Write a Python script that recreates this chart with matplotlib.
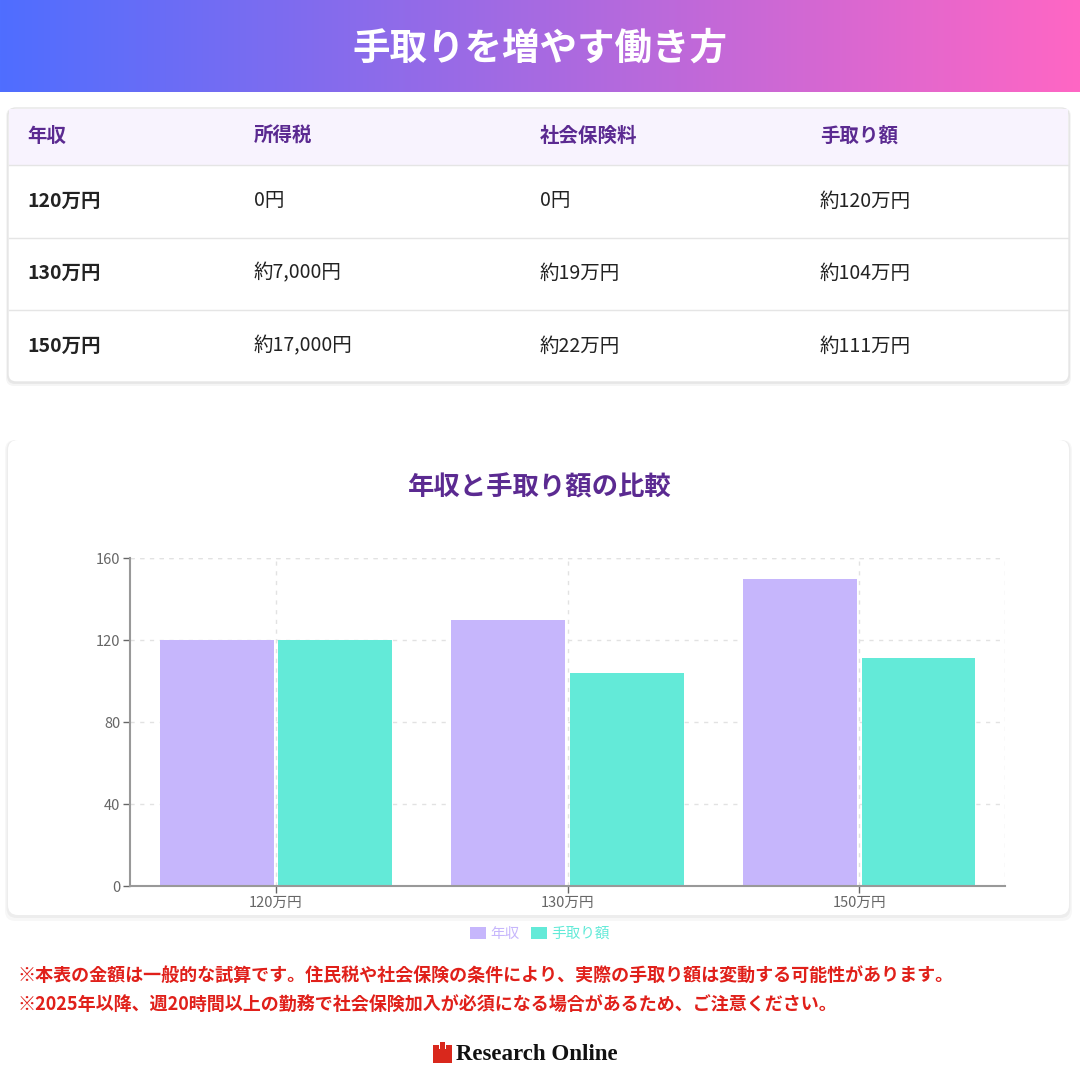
import matplotlib
matplotlib.use("Agg")
import matplotlib.pyplot as plt
import numpy as np
from matplotlib.patches import FancyBboxPatch, Rectangle

plt.rcParams["font.family"] = "Noto Sans CJK JP"

title = "手取りを増やす働き方"
table_header = ["年収", "所得税", "社会保険料", "手取り額"]
table_rows = [
    ["120万円", "0円", "0円", "約120万円"],
    ["130万円", "約7,000円", "約19万円", "約104万円"],
    ["150万円", "約17,000円", "約22万円", "約111万円"],
]
categories = ["120万円", "130万円", "150万円"]
income = [120, 130, 150]
takehome = [120, 104, 111]
chart_title = "年収と手取り額の比較"
series_names = ["年収", "手取り額"]
yticks = [0, 40, 80, 120, 160]
notes = [
    "※本表の金額は一般的な試算です。住民税や社会保険の条件により、実際の手取り額は変動する可能性があります。",
    "※2025年以降、週20時間以上の勤務で社会保険加入が必須になる場合があるため、ご注意ください。",
]

W = H = 1080
fig = plt.figure(figsize=(10.8, 10.8), dpi=100)
fig.patch.set_facecolor("white")

def fx(x): return x / W
def fy(y): return 1 - y / H

# header gradient
hax = fig.add_axes([0, fy(92), 1, 92 / H])
grad = np.linspace(0, 1, 512)
c1 = np.array([0x4F, 0x6E, 0xFF]) / 255
c2 = np.array([0xFF, 0x66, 0xC4]) / 255
c_mid = np.array([0xA0, 0x6A, 0xE0]) / 255
img = np.zeros((1, 512, 3))
for i, t in enumerate(grad):
    img[0, i] = c1 * (1 - t) + c2 * t
hax.imshow(img, aspect="auto", extent=[0, 1, 0, 1])
hax.axis("off")
fig.text(0.5, fy(48), title, ha="center", va="center", fontsize=27,
         fontweight="bold", color="white")

# table card
bg = fig.add_axes([0, 0, 1, 1], zorder=-1)
bg.set_xlim(0, W); bg.set_ylim(H, 0); bg.axis("off")
for off, a in [(4, 0.04), (2, 0.05)]:
    bg.add_patch(FancyBboxPatch((8 - off / 2, 108), 1061 + off, 274 + off,
                                boxstyle="round,pad=0,rounding_size=8",
                                fc=(0, 0, 0, a), ec="none"))
bg.add_patch(FancyBboxPatch((8, 108), 1061, 274, boxstyle="round,pad=0,rounding_size=8",
                            fc="white", ec="#e6e6e6", lw=1))
bg.add_patch(Rectangle((9, 109), 1059, 56, fc="#f8f3fe", ec="none"))
for y in [165, 238, 310]:
    bg.plot([9, 1068], [y, y], color="#e5e5e5", lw=1)
colx = [27, 254, 540, 820]
for x, h in zip(colx, table_header):
    fig.text(fx(x), fy(136), h, ha="left", va="center", fontsize=14,
             fontweight="bold", color="#5b2a91")
for r, row in enumerate(table_rows):
    yy = [201, 273, 346][r]
    for c, (x, v) in enumerate(zip(colx, row)):
        fig.text(fx(x), fy(yy), v, ha="left", va="center", fontsize=14,
                 fontweight="bold" if c == 0 else "normal", color="#222222")

# chart card
for off, a in [(6, 0.03), (3, 0.04)]:
    bg.add_patch(FancyBboxPatch((8 - off / 2, 440), 1061 + off, 475 + off,
                                boxstyle="round,pad=0,rounding_size=10",
                                fc=(0, 0, 0, a), ec="none"))
bg.add_patch(FancyBboxPatch((8, 440), 1061, 475, boxstyle="round,pad=0,rounding_size=10",
                            fc="white", ec="none"))
fig.text(0.5, fy(488), chart_title, ha="center", va="center", fontsize=19,
         fontweight="bold", color="#5b2a91")

ax = fig.add_axes([fx(130), fy(886), 875 / W, 328 / H])
x = np.arange(len(categories))
ax.bar(x - 0.203, income, width=0.39, color="#c6b6fc", label=series_names[0], zorder=2)
ax.bar(x + 0.203, takehome, width=0.39, color="#63ead8", label=series_names[1], zorder=2)
ax.set_xlim(-0.5, 2.5)
ax.set_ylim(0, 160)
ax.set_yticks(yticks)
ax.set_xticks(x)
ax.set_xticklabels(categories)
ax.tick_params(colors="#666666", labelsize=10.5, length=5, width=1, pad=2)
ax.tick_params(axis="y", colors="#666666")
ax.grid(True, color="#e2e2e2", linestyle=(0, (3, 4)), lw=1, zorder=0)
for s in ["top", "right"]:
    ax.spines[s].set_visible(False)
for s in ["left", "bottom"]:
    ax.spines[s].set_color("#999999")
    ax.spines[s].set_linewidth(1.5)
ax.set_facecolor("none")
# right/top dashed grid borders
ax.axvline(2.5, color="#e2e2e2", linestyle=(0, (3, 4)), lw=1)
ax.axhline(160, color="#e2e2e2", linestyle=(0, (3, 4)), lw=1)
leg = fig.legend(loc="center", bbox_to_anchor=(0.5, fy(934)), ncol=2, frameon=False,
                 fontsize=10.5, handlelength=1.1, handleheight=0.8, columnspacing=0.8,
                 handletextpad=0.3)
for t, c in zip(leg.get_texts(), ["#c6b6fc", "#63ead8"]):
    t.set_color(c)

for i, n in enumerate(notes):
    fig.text(fx(18), fy(975 + 29 * i), n, ha="left", va="center", fontsize=13,
             fontweight="bold", color="#e0201a")

# logo
bg.add_patch(Rectangle((433, 1045), 6, 18, fc="#d9281c", ec="none"))
bg.add_patch(Rectangle((440, 1042), 5, 10, fc="#d9281c", ec="none"))
bg.add_patch(Rectangle((446, 1045), 6, 18, fc="#d9281c", ec="none"))
bg.add_patch(Rectangle((439, 1049), 8, 14, fc="#d9281c", ec="none"))
fig.text(fx(456), fy(1055), "Research Online", ha="left", va="center", fontsize=16.5,
         fontweight="bold", family="Liberation Serif", color="#111111")

fig.savefig("out.png", dpi=100)
